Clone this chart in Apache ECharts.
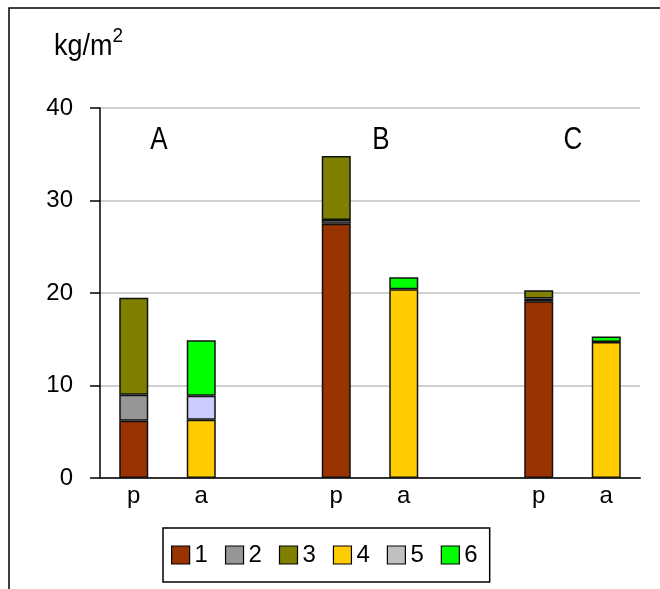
<!DOCTYPE html>
<html>
<head>
<meta charset="utf-8">
<script src="https://cdn.jsdelivr.net/npm/echarts@6/dist/echarts.min.js"></script>
<style>html,body{margin:0;padding:0;background:#fff;}#c{width:660px;height:589px;}</style>
</head>
<body>
<div id="c"></div>
<script>
var categories = ['p', 'a', '', 'p', 'a', '', 'p', 'a'];
var yTicks = [0, 10, 20, 30, 40];
var groupLabels = ['A', 'B', 'C'];
var seriesNames = ['1', '2', '3', '4', '5', '6'];
var s1 = [6.2, '-', '-', 27.5, '-', '-', 19.1, '-'];
var s2 = [2.8, '-', '-', 0.4, '-', '-', 0.3, '-'];
var s3 = [10.5, '-', '-', 6.9, '-', '-', 0.9, '-'];
var s4 = ['-', 6.3, '-', '-', 20.4, '-', '-', 14.7];
var s5 = ['-', 2.6, '-', '-', '-', '-', '-', '-'];
var s6 = ['-', 6.0, '-', '-', 1.3, '-', '-', 0.6];

var barColors = ['#993300', '#969696', '#808000', '#FFCC00', '#CCCCFF', '#00FF00'];
var legendColors = ['#993300', '#969696', '#808000', '#FFCC00', '#C0C0C0', '#00FF00'];
var allData = [s1, s2, s3, s4, s5, s6];
var FONT = 'Liberation Sans, Arial, sans-serif';

var chart = echarts.init(document.getElementById('c'));
var series = seriesNames.map(function (n, i) {
  return {
    name: n, type: 'bar', stack: 'total', data: allData[i], barWidth: 29,
    itemStyle: { color: barColors[i], borderColor: '#111', borderWidth: 1.5 },
    emphasis: { disabled: true }
  };
});

function groupText(i, x) {
  return { type: 'text', x: x, y: 140, scaleY: 1.2, style: { text: groupLabels[i], fontSize: 26, fontFamily: FONT, fill: '#000', align: 'center', verticalAlign: 'middle' } };
}

chart.setOption({
  animation: false,
  textStyle: { fontFamily: FONT },
  grid: { left: 100, right: 20, top: 108, bottom: 111 },
  xAxis: {
    type: 'category', data: categories,
    axisLine: { lineStyle: { color: '#333', width: 2 } },
    axisTick: { show: false },
    axisLabel: { color: '#000', fontSize: 24, margin: 6, fontFamily: FONT }
  },
  yAxis: {
    type: 'value', min: 0, max: 40, interval: 10,
    axisLine: { show: true, lineStyle: { color: '#000', width: 1.5 } },
    axisTick: { show: true, length: 10, lineStyle: { color: '#000', width: 1.5 } },
    axisLabel: { color: '#000', fontSize: 24, margin: 27, fontFamily: FONT,
      formatter: function (v) { return yTicks.indexOf(v) >= 0 ? String(v) : ''; } },
    splitLine: { lineStyle: { color: '#d0d0d0', width: 2 } }
  },
  legend: {
    left: 163, top: 528,
    data: seriesNames.map(function (n, i) {
      return { name: n, itemStyle: { color: legendColors[i], borderColor: '#000', borderWidth: 1.2 } };
    }),
    icon: 'rect', itemWidth: 18, itemHeight: 18, itemGap: 17,
    padding: [15, 12, 15, 8],
    borderColor: '#000', borderWidth: 1.5,
    textStyle: { color: '#000', fontSize: 24, fontFamily: FONT },
    selectedMode: false
  },
  graphic: [
    { type: 'rect', shape: { x: 9, y: 8, width: 800, height: 800 }, style: { fill: 'none', stroke: '#000', lineWidth: 1.5 }, silent: true },
    { type: 'text', x: 54, y: 62, scaleY: 1.1, style: { text: '{a|kg/m}{s|2}', verticalAlign: 'bottom', rich: { a: { fontSize: 27, fontFamily: FONT, fill: '#000', verticalAlign: 'bottom' }, s: { fontSize: 19, fontFamily: FONT, fill: '#000', verticalAlign: 'top', padding: [0, 0, 14, 0] } } } },
    groupText(0, 159),
    groupText(1, 381),
    groupText(2, 573)
  ],
  series: series
});
</script>
</body>
</html>
